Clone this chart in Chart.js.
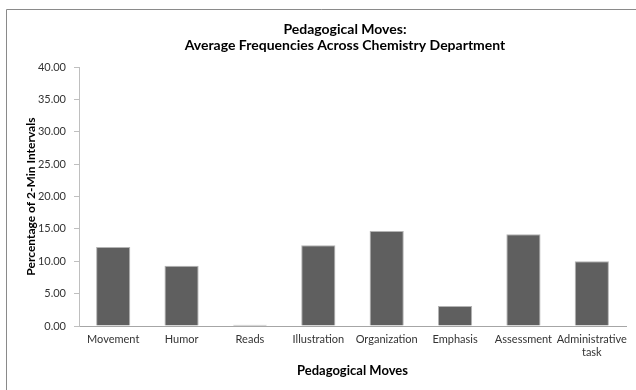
<!DOCTYPE html>
<html>
<head>
<meta charset="utf-8">
<script src="https://cdn.jsdelivr.net/npm/chart.js@4/dist/chart.umd.min.js"></script>
<style>
  html, body { margin: 0; padding: 0; background: #ffffff; }
  #wrap { width: 636px; height: 390px; position: relative; }
</style>
</head>
<body>
<div id="wrap"><canvas id="chart" width="636" height="390"></canvas></div>
<script>
// Pedagogical move categories and their average share of 2-minute intervals
const categories = ['Movement', 'Humor', 'Reads', 'Illustration', 'Organization', 'Emphasis', 'Assessment', ['Administrative', 'task']];
const percentages = [12.2, 9.3, 0.2, 12.5, 14.7, 3.1, 14.2, 10.0];
const titleLines = ['Pedagogical Moves:', 'Average Frequencies Across Chemistry Department'];
const xAxisTitle = 'Pedagogical Moves';
const yAxisTitle = 'Percentage of 2-Min Intervals';
const yMin = 0, yMax = 40, yStep = 5;

const FONT = 'Lato, "Open Sans", sans-serif';

// Frame lines along the top and left of the chart, plus white fill
const framePlugin = {
  id: 'frame',
  beforeDraw(chart) {
    const ctx = chart.ctx;
    ctx.save();
    ctx.fillStyle = '#ffffff';
    ctx.fillRect(0, 0, chart.width, chart.height);
    ctx.strokeStyle = '#8a8a8a';
    ctx.lineWidth = 1;
    ctx.beginPath();
    ctx.moveTo(chart.width, 9.5);
    ctx.lineTo(6.5, 9.5);
    ctx.lineTo(6.5, chart.height);
    ctx.stroke();
    ctx.restore();
  }
};

// Centre the title over the framed chart body
const titleShift = {
  id: 'titleShift',
  afterLayout(chart) {
    const t = chart.titleBlock;
    if (t) { t.left = 54; t.right = chart.width; t.width = t.right - t.left; }
  }
};

new Chart(document.getElementById('chart'), {
  type: 'bar',
  data: {
    labels: categories,
    datasets: [{
      data: percentages,
      backgroundColor: '#5f5f5f',
      borderColor: '#b4b4b4',
      borderWidth: 1,
      barPercentage: 0.5,
      categoryPercentage: 1.0
    }]
  },
  plugins: [framePlugin, titleShift],
  options: {
    responsive: false,
    animation: false,
    layout: { autoPadding: false, padding: { left: 0, right: 10, top: 0, bottom: 0 } },
    plugins: {
      legend: { display: false },
      tooltip: { enabled: false },
      title: {
        display: true,
        text: titleLines,
        color: '#000000',
        font: { family: FONT, size: 14, weight: 'bold', lineHeight: 1.15 },
        padding: { top: 21, bottom: 14 }
      }
    },
    scales: {
      x: {
        afterFit(scale) { scale.height = 64; },
        grid: { display: false, drawTicks: false },
        border: { display: true, color: '#a6a6a6', width: 1 },
        ticks: {
          color: '#333333',
          font: { family: FONT, size: 11 },
          padding: 7,
          maxRotation: 0,
          autoSkip: false
        },
        title: {
          display: true,
          text: xAxisTitle,
          color: '#000000',
          font: { family: FONT, size: 13, weight: 'bold' },
          padding: { top: 11, bottom: 11 }
        }
      },
      y: {
        min: yMin,
        max: yMax,
        afterFit(scale) { scale.width = 79; },
        grid: { drawOnChartArea: false, drawTicks: true, tickLength: 5, color: '#bfbfbf' },
        border: { display: true, color: '#bfbfbf', width: 1 },
        ticks: {
          stepSize: yStep,
          color: '#333333',
          font: { family: FONT, size: 11 },
          padding: 8,
          callback: v => Number(v).toFixed(2)
        },
        title: {
          display: true,
          text: yAxisTitle,
          color: '#000000',
          font: { family: FONT, size: 12, weight: 'bold' },
          padding: { top: 24, bottom: 24 }
        }
      }
    }
  }
});
</script>
</body>
</html>
